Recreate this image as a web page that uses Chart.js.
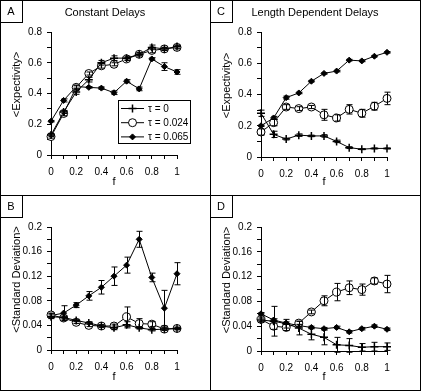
<!DOCTYPE html>
<html>
<head>
<meta charset="utf-8">
<script src="https://cdn.jsdelivr.net/npm/chart.js@4.4.1/dist/chart.umd.min.js"></script>
<style>
  body { margin: 0; background: #fff; font-family: "Liberation Sans", Arial, sans-serif; }
  #fig { position: relative; width: 421px; height: 391px; }
  .panel { position: absolute; width: 210px; height: 195px; }
  .panel canvas { position: absolute; left: 0; top: 0; }
  .title { position: absolute; top: 6px; left: 0; width: 210px; text-align: center; font-size: 11px; line-height: 13px; color: #000; }
  .tag { position: absolute; left: 0; top: 0; width: 23px; height: 23px; box-sizing: border-box;
         border-right: 1px solid #000; border-bottom: 1px solid #000; font-size: 11px; line-height: 22px; text-align: center; }
  .line { position: absolute; background: #000; }
</style>
</head>
<body>
<div id="fig">
  <div class="panel" style="left:0;top:0"><canvas id="chartA" width="210" height="195"></canvas><div class="title">Constant Delays</div><div class="tag">A</div></div>
  <div class="panel" style="left:210px;top:0"><canvas id="chartC" width="210" height="195"></canvas><div class="title">Length Dependent Delays</div><div class="tag">C</div></div>
  <div class="panel" style="left:0;top:195px"><canvas id="chartB" width="210" height="195"></canvas><div class="tag">B</div></div>
  <div class="panel" style="left:210px;top:195px"><canvas id="chartD" width="210" height="195"></canvas><div class="tag">D</div></div>
  <div class="line" style="left:0;top:0;width:421px;height:1px"></div>
  <div class="line" style="left:0;top:390px;width:421px;height:1px"></div>
  <div class="line" style="left:0;top:0;width:1px;height:391px"></div>
  <div class="line" style="left:420px;top:0;width:1px;height:391px"></div>
  <div class="line" style="left:210px;top:0;width:1px;height:391px"></div>
  <div class="line" style="left:0;top:195px;width:421px;height:1px"></div>
</div>
<script>
const f = [0, 0.1, 0.2, 0.3, 0.4, 0.5, 0.6, 0.7, 0.8, 0.9, 1];
const legendLabels = ['\u03c4 = 0', '\u03c4 = 0.024', '\u03c4 = 0.065'];

// A: constant delays, expectivity
const A_tau0 = [0.13, 0.28, 0.41, 0.49, 0.60, 0.63, 0.63, 0.655, 0.70, 0.69, 0.705];
const A_tau0_err = [0.01, 0.01, 0.015, 0.015, 0.015, 0.015, 0.012, 0.01, 0.015, 0.01, 0.01];
const A_tau024 = [0.12, 0.27, 0.44, 0.53, 0.58, 0.59, 0.625, 0.655, 0.68, 0.69, 0.70];
const A_tau024_err = [0.01, 0.015, 0.01, 0.01, 0.015, 0.01, 0.01, 0.01, 0.015, 0.01, 0.01];
const A_tau065 = [0.22, 0.355, 0.445, 0.44, 0.435, 0.405, 0.48, 0.43, 0.625, 0.575, 0.54];
const A_tau065_err = [0.005, 0.01, 0.01, 0.005, 0.008, 0.012, 0.01, 0.012, 0.008, 0.025, 0.015];

// C: length dependent delays, expectivity
const C_tau0 = [0.28, 0.145, 0.115, 0.14, 0.135, 0.135, 0.10, 0.06, 0.05, 0.055, 0.055];
const C_tau0_err = [0.02, 0.02, 0.006, 0.008, 0.005, 0.008, 0.008, 0.006, 0.003, 0.003, 0.003];
const C_tau024 = [0.16, 0.22, 0.32, 0.31, 0.32, 0.27, 0.25, 0.305, 0.28, 0.325, 0.375];
const C_tau024_err = [0.02, 0.02, 0.015, 0.012, 0.01, 0.035, 0.02, 0.03, 0.025, 0.025, 0.04];
const C_tau065 = [0.20, 0.25, 0.38, 0.41, 0.485, 0.535, 0.55, 0.62, 0.615, 0.645, 0.67];
const C_tau065_err = [0.005, 0.01, 0.01, 0.005, 0.005, 0.005, 0.005, 0.005, 0.005, 0.005, 0.005];

// B: constant delays, standard deviation
const B_tau0 = [0.054, 0.053, 0.048, 0.044, 0.039, 0.036, 0.041, 0.036, 0.033, 0.034, 0.035];
const B_tau0_err = [0.003, 0.002, 0.002, 0.002, 0.002, 0.003, 0.005, 0.002, 0.002, 0.002, 0.002];
const B_tau024 = [0.057, 0.052, 0.045, 0.040, 0.039, 0.039, 0.054, 0.043, 0.042, 0.034, 0.035];
const B_tau024_err = [0.003, 0.003, 0.002, 0.002, 0.002, 0.003, 0.016, 0.008, 0.004, 0.002, 0.002];
const B_tau065 = [0.056, 0.060, 0.073, 0.088, 0.102, 0.120, 0.138, 0.180, 0.118, 0.068, 0.124];
const B_tau065_err = [0.003, 0.012, 0.004, 0.007, 0.011, 0.015, 0.013, 0.013, 0.007, 0.029, 0.018];

// D: length dependent delays, standard deviation
const D_tau0 = [0.050, 0.048, 0.044, 0.037, 0.027, 0.022, 0.010, 0.009, 0.006, 0.007, 0.007];
const D_tau0_err = [0.003, 0.024, 0.007, 0.011, 0.009, 0.012, 0.012, 0.011, 0.006, 0.007, 0.006];
const D_tau024 = [0.051, 0.040, 0.038, 0.045, 0.063, 0.081, 0.095, 0.102, 0.099, 0.113, 0.108];
const D_tau024_err = [0.004, 0.005, 0.005, 0.003, 0.003, 0.008, 0.014, 0.011, 0.009, 0.005, 0.014];
const D_tau065 = [0.060, 0.050, 0.045, 0.041, 0.038, 0.036, 0.038, 0.031, 0.036, 0.040, 0.035];
const D_tau065_err = [0.002, 0.002, 0.002, 0.002, 0.002, 0.002, 0.002, 0.002, 0.002, 0.002, 0.002];

const markers = [
  { pointStyle: 'cross', pointRadius: 4, pointBorderWidth: 1.5, pointBackgroundColor: '#000' },
  { pointStyle: 'circle', pointRadius: 4, pointBorderWidth: 1, pointBackgroundColor: '#fff' },
  { pointStyle: 'rectRot', pointRadius: 3, pointBorderWidth: 1, pointBackgroundColor: '#000' }
];

const FONT = '"Liberation Sans", Arial, sans-serif';
const fmt = v => String(+v.toFixed(2));

const errorBars = {
  id: 'errorBars',
  afterDatasetsDraw(chart) {
    const ctx = chart.ctx, xs = chart.scales.x, ys = chart.scales.y;
    ctx.save();
    ctx.strokeStyle = '#000';
    ctx.lineWidth = 1;
    chart.data.datasets.forEach(ds => {
      ds.err.forEach((e, i) => {
        const p = ds.data[i];
        const x = Math.round(xs.getPixelForValue(p.x)) + 0.5;
        const yt = ys.getPixelForValue(p.y + e), yb = ys.getPixelForValue(p.y - e);
        ctx.beginPath();
        ctx.moveTo(x, yt); ctx.lineTo(x, yb);
        ctx.moveTo(x - 3, yt); ctx.lineTo(x + 3, yt);
        ctx.moveTo(x - 3, yb); ctx.lineTo(x + 3, yb);
        ctx.stroke();
      });
    });
    ctx.restore();
  }
};

// y axis title, sits a little above the centre of the axis like the original
const yTitle = {
  id: 'yTitle',
  afterDraw(chart, args, opts) {
    const ctx = chart.ctx, a = chart.chartArea;
    ctx.save();
    ctx.translate(16.5, (a.top + a.bottom) / 2 - 9);
    ctx.rotate(-Math.PI / 2);
    ctx.font = '11px ' + FONT;
    ctx.fillStyle = '#000';
    ctx.textAlign = 'center';
    ctx.textBaseline = 'middle';
    ctx.fillText(opts.text, 0, 0);
    ctx.restore();
  }
};

const legendBox = {
  id: 'legendBox',
  afterDraw(chart, args, opts) {
    if (!opts.show) return;
    const ctx = chart.ctx;
    ctx.save();
    ctx.fillStyle = '#fff';
    ctx.fillRect(118.5, 100.5, 72, 43);
    ctx.strokeStyle = '#000';
    ctx.lineWidth = 1;
    ctx.strokeRect(118.5, 100.5, 72, 43);
    ctx.font = '10px ' + FONT;
    ctx.textBaseline = 'middle';
    chart.data.datasets.forEach((ds, i) => {
      const y = 108.5 + i * 14.2;
      ctx.strokeStyle = '#000';
      ctx.lineWidth = 1;
      ctx.beginPath(); ctx.moveTo(121, y); ctx.lineTo(144, y); ctx.stroke();
      ctx.fillStyle = ds.pointBackgroundColor;
      ctx.lineWidth = ds.pointBorderWidth;
      Chart.helpers.drawPoint(ctx, { pointStyle: ds.pointStyle, radius: ds.pointRadius, rotation: 0, borderWidth: ds.pointBorderWidth }, 132.5, y);
      ctx.fillStyle = '#000';
      ctx.fillText(ds.label, 148, y + 0.5);
    });
    ctx.restore();
  }
};

function makeChart(id, series, errs, yMax, yStep, yLabel, bottom, showLegend) {
  const datasets = series.map((s, k) => Object.assign({
    label: legendLabels[k],
    data: s.map((v, i) => ({ x: f[i], y: v })),
    err: errs[k],
    borderColor: '#000',
    pointBorderColor: '#000',
    borderWidth: 1,
    tension: 0,
    fill: false,
    clip: false
  }, markers[k]));

  return new Chart(document.getElementById(id), {
    type: 'line',
    data: { datasets },
    plugins: [errorBars, legendBox, yTitle],
    options: {
      responsive: false,
      animation: false,
      devicePixelRatio: 1,
      layout: { padding: { left: 6, right: 33, top: 32, bottom: 0 } },
      plugins: {
        legend: { display: false },
        tooltip: { enabled: false },
        legendBox: { show: showLegend },
        yTitle: { text: yLabel }
      },
      scales: {
        x: {
          type: 'linear', min: 0, max: 1,
          afterFit(s) { s.height = 195 - bottom; },
          border: { display: true, color: '#000', width: 1 },
          grid: { display: true, drawOnChartArea: false, drawTicks: true, tickLength: 4, color: '#000' },
          ticks: { stepSize: 0.1, autoSkip: false, maxRotation: 0, padding: 7, color: '#000',
                   font: { size: 10, family: FONT },
                   callback: (v, i) => i % 2 === 0 ? fmt(v) : '' },
          title: { display: true, text: 'f', color: '#000',
                   font: { size: 11, family: FONT },
                   padding: { top: 0, bottom: 6 } }
        },
        y: {
          type: 'linear', min: 0, max: yMax,
          afterFit(s) { s.width = 45; },
          border: { display: true, color: '#000', width: 1 },
          grid: { display: true, drawOnChartArea: false, drawTicks: true, tickLength: 4, color: '#000' },
          ticks: { stepSize: yStep, autoSkip: false, padding: 5, color: '#000',
                   font: { size: 10, family: FONT },
                   callback: (v, i) => i % 2 === 0 ? fmt(v) : '' },
          title: { display: false }
        }
      }
    }
  });
}

makeChart('chartA', [A_tau0, A_tau024, A_tau065], [A_tau0_err, A_tau024_err, A_tau065_err],
          0.8, 0.1, '<Expectivity>', 155, true);
makeChart('chartC', [C_tau0, C_tau024, C_tau065], [C_tau0_err, C_tau024_err, C_tau065_err],
          0.8, 0.1, '<Expectivity>', 157, false);
makeChart('chartB', [B_tau0, B_tau024, B_tau065], [B_tau0_err, B_tau024_err, B_tau065_err],
          0.2, 0.02, '<Standard Deviation>', 155, false);
makeChart('chartD', [D_tau0, D_tau024, D_tau065], [D_tau0_err, D_tau024_err, D_tau065_err],
          0.2, 0.02, '<Standard Deviation>', 156, false);
</script>
</body>
</html>
